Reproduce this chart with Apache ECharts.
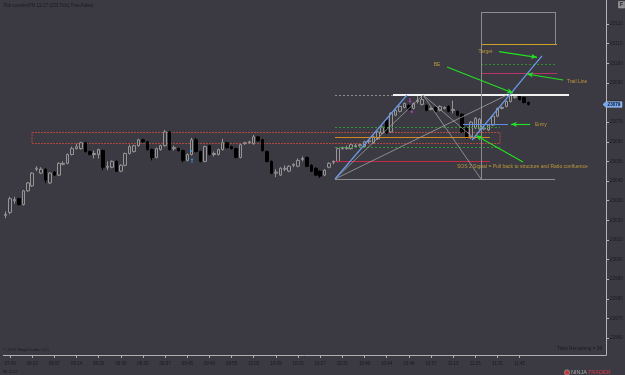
<!DOCTYPE html>
<html><head><meta charset="utf-8">
<script src="https://cdn.jsdelivr.net/npm/echarts@6/dist/echarts.min.js"></script>
<style>html,body{margin:0;padding:0;background:#3b3a42;}#c{width:625px;height:375px;}</style>
</head><body><div id="c"></div>
<script>
// ---------- data ----------
const tickLabels = ["07:49","08:13","08:57","09:14","09:20","09:30","09:33","09:37","09:45","09:49","09:55","10:03","10:09","10:16","10:27","10:31","10:40","10:44","10:49","10:57","11:13","11:25","11:31","11:45"];
const priceTicks = [22960,22970,22980,22990,23000,23010,23020,23030,23040,23050,23060,23070,23080,23090,23100,23110,23120];
const lastPrice = 23079;

const openP = [23022.5,23024,23030,23031,23028,23035,23037.5,23046,23044,23046,
 23039,23044.5,23043,23048.5,23049,23053.5,23056.5,23056.5,23059.5,23055,
 23053.5,23053.5,23055.5,23047,23047,23050,23045,23048,23054,23055,
 23058,23061,23060,23056,23052,23056,23058,23065,23056.5,23056.5,
 23055.5,23050.5,23053.5,23061,23055,23050,23058,23053.5,23053.5,23056,
 23059.5,23057.5,23056.5,23052,23059,23059.5,23059,23062.5,23061,23055,
 23050,23044,23043,23046,23045,23048,23047.5,23051,23052,23048,
 23046.5,23045,23043,23047,23049.5,23050,23056.5,23056.5,23056.5,23057.5,
 23058,23057.5,23060,23059.5,23061.5,23064.5,23071,23065,23073.5,23075.5,
 23077.5,23078.5,23077,23080.5,23079,23078.5,23076.5,23077.5,23076,23077,
 23078,23076,23075.5,23074,23067,23062.5,23067,23066.5,23066.5,23066,
 23068.5,23073,23077,23078,23080.5,23082.5,23083,23082.5,23080];
const closeP = [23023,23031,23030.5,23028,23035,23039,23044,23046.5,23046,23040.5,
 23044,23043,23049,23049,23053.5,23056.5,23057.5,23059.5,23055,23053.5,
 23054,23056,23047,23047.5,23050,23045,23048,23054,23057.5,23058,
 23061,23060,23056,23052,23056.5,23058,23065,23056,23057,23055.5,
 23050.5,23053.5,23061,23055,23050,23057.5,23053.5,23054,23056,23059.5,
 23057,23056.5,23052,23058.5,23059.5,23060,23062.5,23060.5,23055.5,23050,
 23044,23044.5,23046.5,23046.5,23047.5,23048.5,23050.5,23051.5,23047.5,23045,
 23043,23042.5,23045.5,23049,23050,23056.5,23057,23057,23058.5,23058,
 23058.5,23060,23060.5,23062.5,23065,23067.5,23064.5,23074.5,23076,23078,
 23079.5,23076.5,23079.5,23081,23081.5,23076,23077,23075.5,23078,23077.5,
 23075.5,23076.5,23073.5,23065,23062.5,23070,23072,23071.5,23067,23068.5,
 23073,23077,23077.5,23080.5,23083.5,23083,23081.5,23080,23079];
const lowP = [23021,23023,23028.5,23027.5,23027.5,23034.5,23037,23045,23043.5,23039,
 23038.5,23042.5,23042.5,23048,23048.5,23053,23056,23056,23054.5,23053,
 23051.5,23051.5,23045.5,23045.5,23046.5,23044.5,23044.5,23047.5,23053.5,23054.5,
 23057.5,23059.5,23055.5,23050.5,23051.5,23055.5,23057.5,23055.5,23055.5,23055,
 23049.5,23050,23053,23054.5,23049.5,23049.5,23053,23052.5,23053,23055.5,
 23056.5,23056,23051.5,23051.5,23058.5,23059,23058.5,23060,23055,23049.5,
 23043.5,23042,23042.5,23045,23044.5,23047,23047,23050,23047,23044.5,
 23042.5,23041.5,23042.5,23046.5,23048.5,23049.5,23056,23056,23056,23057,
 23057.5,23057,23059,23059,23061,23064,23064,23064.5,23073,23075,
 23077,23076,23076.5,23079.5,23078.5,23075.5,23076,23075,23075.5,23076.5,
 23075,23074.5,23073,23064.5,23061.5,23061.4,23066.5,23066,23066,23065.5,
 23068,23072.5,23076.5,23077.5,23080,23082,23081,23079.5,23078.5];
const highP = [23024.5,23032,23032,23031.5,23035.5,23039.5,23044.5,23047.5,23047,23046.5,
 23044.5,23045,23049.5,23050,23054,23057.5,23059,23060,23060,23055.5,
 23055.5,23056.5,23056,23050,23050.5,23050.5,23048.5,23054.5,23058.5,23058.5,
 23061.5,23061.5,23060.5,23056.5,23057,23058.5,23066,23065.5,23058,23057,
 23056,23054,23062,23062,23055.5,23058,23058.5,23055,23056.5,23061.5,
 23060,23058,23057,23059,23060,23060.5,23063.5,23063,23061.5,23055.5,
 23050.5,23046,23047,23048,23048,23049,23051.5,23052.5,23052.5,23048.5,
 23047,23045.5,23046,23049.5,23050.5,23057,23057.5,23058,23059,23059,
 23059,23060.5,23061,23063,23065.5,23068,23071.5,23075,23076.5,23078.5,
 23080,23079,23080,23083.8,23083.5,23079,23077.5,23078,23078.5,23078,
 23078.5,23081,23076,23074.5,23067.5,23070.5,23072.5,23072,23068,23069,
 23073.5,23077.5,23078,23081,23084,23084,23083.5,23083,23080.5];

// drawing objects, in (bar index, price)
const levelLines = [ // [price, fromBar, toBar]
  [23126.12, 107.29, 124.0],
  [23109.66, 107.29, 124.45],
  [23099.47, 107.29, 124.45],
  [23094.88, 107.29, 124.45],
  [23083.82, 74.34, 87.43],
  [23083.82, 87.43, 127.15],
  [23067.36, 74.34, 111.58],
  [23062.27, 74.34, 109.32],
  [23057.17, 74.34, 111.58],
  [23049.94, 74.34, 109.32],
  [23041.02, 74.34, 124.0],
  [23068.89, 103.2, 113.4]
];
const verticalLines = [[107.29, 23126.12, 23041.02], [124.0, 23126.12, 23109.66]];
const zone = [5.96, 23064.71, 111.58, 23059.11];
const blueTrends = [[74.34, 23041.02, 90.59, 23083.82], [105.26, 23060.89, 121.06, 23103.70]];
const grayTrends = [[74.34, 23041.02, 94.20, 23083.82], [94.20, 23083.82, 107.29, 23041.02],
                    [74.34, 23041.02, 113.16, 23083.82], [94.20, 23083.82, 105.94, 23061.40]];
const arrows = [[111.35, 23105.89, 119.93, 23103.03], [125.80, 23091.47, 117.67, 23094.52],
                [99.62, 23098.09, 114.51, 23084.84], [118.35, 23068.89, 114.06, 23068.89],
                [116.77, 23049.68, 106.16, 23063.19]];
const notes = [["Target", 108.31, 23105.73], ["BE", 97.36, 23099.36], ["Trail Line", 126.70, 23090.45],
               ["Entry", 119.48, 23068.54], ["SOS 2 Signal = Pull back to structure and Ratio confluence", 101.87, 23047.13]];
const signalMarks = [[42.07, 23050.4], [41.85, 23055.3], [91.27, 23081.0], [91.65, 23075.3]];

// ---------- chart ----------
const BG = '#3b3a42';
const FONT = '"Liberation Sans", Arial, sans-serif';
const TXT = '#1a1a1e';
const chart = echarts.init(document.getElementById('c'), null, {width: 625, height: 375});

const slotCount = 136;
const categories = Array.from({length: slotCount}, (_, i) => 'b' + i);
const isTick = idx => idx >= 1 && (idx - 1) % 5 === 0 && (idx - 1) / 5 < tickLabels.length;
const candles = openP.map((o, i) => [o, closeP[i], lowP[i], highP[i]]);

const levelStyle = [
  {color: '#8c8c8c', width: 1, type: 'solid'},
  {color: '#c9a227', width: 1, type: 'solid'},
  {color: '#2f8f2f', width: 1, type: [2, 2]},
  {color: '#b8336a', width: 1, type: 'solid'},
  {color: '#8a8a8a', width: 1, type: [2, 2]},
  {color: '#f2f2f2', width: 2, type: 'solid'},
  {color: '#2f9a2f', width: 1, type: [2, 2]},
  {color: '#d4891c', width: 1, type: 'solid'},
  {color: '#2f9a2f', width: 1, type: [2, 2]},
  {color: '#c22a44', width: 1, type: 'solid'},
  {color: '#8c8c8c', width: 1, type: 'solid'},
  {color: '#5b8fe8', width: 1.2, type: 'solid'}
];
const mlData = [];
levelLines.forEach((l, k) => mlData.push([{coord: [l[1], l[0]], lineStyle: levelStyle[k]}, {coord: [l[2], l[0]]}]));
verticalLines.forEach(v => mlData.push([{coord: [v[0], v[1]], lineStyle: {color: '#8c8c8c', width: 1, type: 'solid'}}, {coord: [v[0], v[2]]}]));
grayTrends.forEach(t => mlData.push([{coord: [t[0], t[1]], lineStyle: {color: '#a0a0a0', width: 0.8, type: 'solid'}}, {coord: [t[2], t[3]]}]));
blueTrends.forEach(t => mlData.push([{coord: [t[0], t[1]], lineStyle: {color: '#6a9be8', width: 1.2, type: 'solid'}}, {coord: [t[2], t[3]]}]));
arrows.forEach(a => mlData.push([{coord: [a[0], a[1]], lineStyle: {color: '#22e022', width: 1.2, type: 'solid'}},
                                 {coord: [a[2], a[3]], symbol: 'arrow', symbolSize: [4, 6], itemStyle: {color: '#22e022'}}]));

const noteAlign = ['center', 'center', 'left', 'left', 'left'];
const upArrow = 'path://M3,0 L6,3 L4,3 L4,8 L2,8 L2,3 L0,3 Z';
const markStyle = [
  {symbol: upArrow, symbolSize: [3, 5], symbolRotate: 0, itemStyle: {color: '#3d9be0'}},
  {symbol: 'rect', symbolSize: 2, symbolRotate: 0, itemStyle: {color: '#3d9be0'}},
  {symbol: upArrow, symbolSize: [3, 5], symbolRotate: 180, itemStyle: {color: '#e040e0'}},
  {symbol: 'rect', symbolSize: 2, symbolRotate: 0, itemStyle: {color: '#e040e0'}}
];

const option = {
  backgroundColor: BG,
  animation: false,
  grid: {left: 3.4, right: 19, top: 0, bottom: 20, containLabel: false, outerBoundsMode: 'none'},
  xAxis: [{
    type: 'category', data: categories, boundaryGap: true, gridIndex: 0,
    axisLine: {show: true, onZero: false, lineStyle: {color: '#b0b0b0', width: 1}},
    axisTick: {show: true, interval: (i) => isTick(i), alignWithLabel: true, length: 3, lineStyle: {color: '#b0b0b0'}},
    axisLabel: {show: true, interval: (i) => isTick(i), formatter: (v, i) => tickLabels[(i - 1) / 5] || '',
      color: TXT, fontSize: 4.5, fontFamily: FONT, margin: 6},
    splitLine: {show: false}
  }, {
    type: 'value', gridIndex: 0, min: -0.5, max: slotCount - 0.5, show: false,
    axisLine: {onZero: false}
  }],
  yAxis: [{
    type: 'value', position: 'right', min: 22951.34, max: 23132.23, scale: true,
    axisLine: {show: true, onZero: false, lineStyle: {color: '#b4b4b4', width: 1}},
    axisTick: {show: true, length: 3, customValues: priceTicks, lineStyle: {color: '#b4b4b4'}},
    axisLabel: {show: true, customValues: priceTicks, formatter: v => String(v), color: TXT, fontSize: 4.6, fontFamily: FONT, margin: 4},
    splitLine: {show: false}
  }],
  series: [{
    type: 'candlestick', xAxisIndex: 0, yAxisIndex: 0, data: candles, barWidth: 3, silent: true, z: 2,
    itemStyle: {color: BG, color0: '#000000', borderColor: '#959595', borderColor0: '#000000', borderWidth: 1}
  }, {
    type: 'scatter', xAxisIndex: 1, yAxisIndex: 0, silent: true, z: 5,
    symbolSize: 1, itemStyle: {color: 'rgba(0,0,0,0)'},
    data: notes.map((n, k) => ({value: [n[1], n[2]], label: {formatter: n[0], align: noteAlign[k]}})),
    label: {show: true, position: 'inside', color: '#dcae3a', fontSize: 5, fontFamily: FONT, verticalAlign: 'middle'},
    markLine: {silent: true, animation: false, symbol: ['none', 'none'], label: {show: false}, emphasis: {disabled: true}, data: mlData},
    markArea: {silent: true, animation: false, label: {show: false},
      itemStyle: {color: 'rgba(0,0,0,0)', borderColor: '#b5473f', borderWidth: 1, borderType: [2, 1]},
      data: [[{coord: [zone[0], zone[1]]}, {coord: [zone[2], zone[3]]}]]}
  }, {
    type: 'scatter', xAxisIndex: 1, yAxisIndex: 0, silent: true, z: 6,
    data: signalMarks.map((m, k) => Object.assign({value: m}, markStyle[k]))
  }]
};
chart.setOption(option);

const py = chart.convertToPixel({yAxisIndex: 0}, lastPrice);
const ax = chart.convertToPixel({xAxisIndex: 1}, slotCount - 0.5);
chart.setOption({graphic: [
  {type: 'text', x: 3, y: 6, style: {text: 'Tick counter(FM 12-17 (233 Tick),True,False)', fill: TXT, font: '4.5px ' + FONT, align: 'left', verticalAlign: 'middle', textAlign: 'left', textVerticalAlign: 'middle'}},
  {type: 'text', x: 3, y: 350, style: {text: '\u00a9 2017 NinjaTrader, LLC', fill: TXT, font: '4.2px ' + FONT, align: 'left', verticalAlign: 'middle', textAlign: 'left', textVerticalAlign: 'middle'}},
  {type: 'text', x: 2, y: 372, style: {text: 'TM 12-17', fill: TXT, font: '3.6px ' + FONT, align: 'left', verticalAlign: 'middle', textAlign: 'left', textVerticalAlign: 'middle'}},
  {type: 'text', x: 602, y: 349, style: {text: 'Ticks Remaining = 39', fill: TXT, font: '4.7px ' + FONT, align: 'right', verticalAlign: 'middle', textAlign: 'right', textVerticalAlign: 'middle'}},
  {type: 'polygon', shape: {points: [[ax - 3, py], [ax, py - 2.8], [ax + 16, py - 2.8], [ax + 16, py + 2.8], [ax, py + 2.8]]}, style: {fill: '#74a8f0', stroke: '#c8dcff', lineWidth: 0.5}, z: 50},
  {type: 'text', x: ax + 8, y: py, z: 51, style: {text: String(lastPrice), fill: '#0e1a30', font: 'bold 4.6px ' + FONT, align: 'center', verticalAlign: 'middle', textAlign: 'center', textVerticalAlign: 'middle'}},
  {type: 'rect', shape: {x: 618.5, y: 1.5, width: 6, height: 6.5}, style: {fill: '#8e8e92', stroke: '#aaaaaa', lineWidth: 0.5}, z: 50},
  {type: 'text', x: 621.5, y: 4.8, z: 51, style: {text: 'F', fill: '#202020', font: 'bold 5px ' + FONT, align: 'center', verticalAlign: 'middle', textAlign: 'center', textVerticalAlign: 'middle'}},
  {type: 'circle', shape: {cx: 567, cy: 372.5, r: 2.6}, style: {fill: '#c8303c', stroke: '#9a9a9a', lineWidth: 0.8}, z: 50},
  {type: 'text', x: 571, y: 372.5, z: 51, style: {text: 'NINJA', fill: '#a8a8a8', font: '5.5px ' + FONT, align: 'left', verticalAlign: 'middle', textAlign: 'left', textVerticalAlign: 'middle'}},
  {type: 'text', x: 588, y: 372.5, z: 51, style: {text: 'TRADER', fill: '#d8394a', font: '5.5px ' + FONT, align: 'left', verticalAlign: 'middle', textAlign: 'left', textVerticalAlign: 'middle'}}
]});
</script>
</body></html>
